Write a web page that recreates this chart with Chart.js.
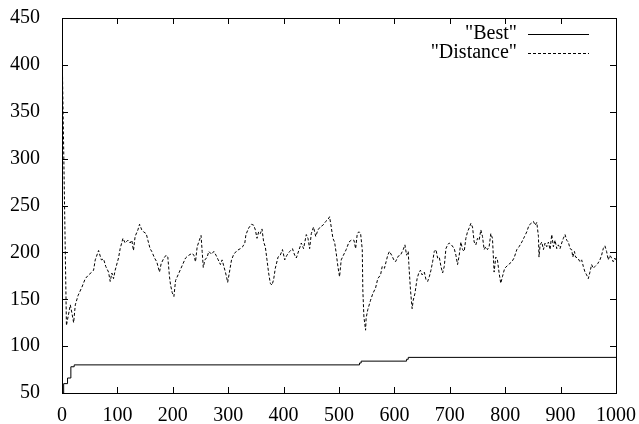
<!DOCTYPE html>
<html>
<head>
<meta charset="utf-8">
<script src="https://cdn.jsdelivr.net/npm/chart.js@4.4.0/dist/chart.umd.min.js"></script>
<style>
  html, body { margin: 0; padding: 0; background: #fff; }
  #wrap { width: 639px; height: 424px; }
</style>
</head>
<body>
<div id="wrap"><canvas id="graph"></canvas></div>
<script>
// "Best" - stepped line, x where the new value starts
const bestX = [0, 3, 10, 16, 22, 537, 540, 622, 625, 1000];
const bestY = [50, 60, 66, 78, 80, 82, 84, 86, 88, 88];

// "Distance"
const distX = [0, 8, 15, 18, 21, 24, 29, 36, 42, 48, 54, 57, 60, 66, 71, 75, 79, 84, 87, 90,
  93, 96, 102, 105, 110, 114, 119, 123, 126, 129, 132, 137, 140, 144, 147, 152, 155, 159, 162, 167,
  171, 176, 179, 184, 188, 191, 194, 196, 199, 202, 205, 211, 217, 223, 229, 235, 238, 241, 244, 248,
  251, 253, 255, 258, 262, 265, 270, 274, 278, 282, 286, 289, 294, 297, 299, 302, 306, 310, 316, 322,
  326, 330, 332, 337, 342, 346, 349, 352, 355, 358, 361, 364, 367, 370, 373, 376, 379, 382, 385, 390,
  394, 398, 402, 406, 411, 416, 420, 423, 428, 432, 436, 441, 444, 447, 450, 454, 458, 462, 466, 471,
  476, 480, 483, 486, 489, 492, 495, 498, 501, 504, 508, 513, 518, 522, 527, 530, 533, 536, 539, 542,
  543, 545, 548, 549, 552, 557, 561, 566, 570, 575, 578, 582, 585, 588, 591, 595, 599, 602, 607, 611,
  616, 619, 622, 625, 626, 629, 632, 634, 637, 641, 644, 647, 650, 654, 657, 660, 663, 666, 669, 672,
  675, 678, 681, 684, 687, 690, 693, 696, 699, 703, 708, 711, 714, 717, 720, 723, 726, 729, 732, 735,
  738, 741, 744, 747, 750, 753, 756, 759, 762, 765, 768, 771, 774, 777, 780, 783, 786, 789, 792, 795,
  799, 806, 812, 816, 821, 825, 830, 835, 839, 843, 847, 851, 854, 857, 860, 861, 863, 866, 869, 872,
  875, 878, 881, 884, 887, 890, 893, 896, 899, 902, 905, 908, 911, 914, 917, 920, 922, 925, 927, 931,
  935, 938, 941, 944, 947, 950, 953, 956, 959, 962, 967, 971, 974, 977, 980, 983, 986, 989, 992, 995,
  998, 1000];
const distY = [425, 122, 144, 135, 125, 144, 154, 163, 172, 176, 179, 181, 192, 202, 192, 193, 185, 179, 169, 178,
  172, 181, 194, 204, 215, 210, 213, 210, 213, 202, 217, 224, 230, 224, 222, 220, 213, 204, 201, 194,
  190, 179, 188, 194, 197, 195, 174, 165, 157, 153, 170, 178, 186, 194, 197, 199, 197, 190, 206, 213,
  218, 201, 184, 192, 195, 201, 198, 201, 197, 192, 187, 192, 181, 174, 168, 178, 192, 198, 202, 204,
  206, 210, 219, 226, 230, 229, 224, 215, 222, 220, 225, 211, 206, 192, 178, 167, 165, 171, 183, 195,
  197, 203, 192, 197, 201, 204, 197, 194, 203, 210, 204, 219, 215, 204, 220, 227, 217, 224, 227, 229,
  233, 235, 238, 227, 215, 211, 199, 185, 174, 192, 197, 203, 211, 213, 213, 204, 220, 222, 220, 203,
  160, 131, 117, 130, 139, 149, 156, 162, 172, 176, 185, 183, 190, 197, 201, 197, 192, 190, 196, 197,
  203, 208, 197, 201, 188, 160, 140, 149, 156, 172, 178, 181, 176, 179, 171, 169, 174, 181, 190, 201,
  203, 194, 195, 185, 178, 185, 204, 208, 210, 208, 204, 197, 187, 197, 211, 203, 201, 215, 222, 226,
  231, 227, 211, 208, 215, 213, 224, 217, 203, 206, 203, 206, 220, 215, 179, 195, 192, 178, 167, 174,
  183, 187, 190, 194, 203, 206, 211, 217, 222, 229, 231, 233, 229, 232, 217, 195, 208, 211, 203, 210,
  206, 211, 203, 219, 206, 213, 204, 208, 204, 210, 215, 219, 213, 211, 204, 203, 195, 201, 195, 194,
  190, 192, 185, 179, 176, 172, 179, 187, 183, 185, 188, 192, 197, 204, 207, 201, 192, 197, 194, 190,
  194, 190];

const xTicks = [0, 100, 200, 300, 400, 500, 600, 700, 800, 900, 1000];
const yTicks = [50, 100, 150, 200, 250, 300, 350, 400, 450];

const font = { family: '"Liberation Serif", "Times New Roman", serif', size: 20 };

// box, inward ticks on all sides and gnuplot style key
const plotBox = {
  id: 'plotBox',
  afterDraw(chart) {
    const { ctx, chartArea: a, scales: { x, y } } = chart;
    ctx.save();
    ctx.strokeStyle = '#000';
    ctx.lineWidth = 1;
    ctx.setLineDash([]);
    ctx.strokeRect(a.left + 0.5, a.top + 0.5, a.right - a.left, a.bottom - a.top);
    ctx.beginPath();
    xTicks.forEach(v => {
      const px = Math.round(x.getPixelForValue(v)) + 0.5;
      ctx.moveTo(px, a.bottom); ctx.lineTo(px, a.bottom - 6);
      ctx.moveTo(px, a.top); ctx.lineTo(px, a.top + 6);
    });
    yTicks.forEach(v => {
      const py = Math.round(y.getPixelForValue(v)) + 0.5;
      ctx.moveTo(a.left, py); ctx.lineTo(a.left + 6, py);
      ctx.moveTo(a.right, py); ctx.lineTo(a.right - 6, py);
    });
    ctx.stroke();

    // key
    ctx.font = font.size + 'px ' + font.family;
    ctx.fillStyle = '#000';
    ctx.textAlign = 'right';
    ctx.textBaseline = 'middle';
    const tx = a.right - 99, l0 = a.right - 88, l1 = a.right - 27;
    chart.data.datasets.forEach((ds, i) => {
      const ty = a.top + 16 + i * 19;
      ctx.fillText(ds.label, tx, ty);
      ctx.beginPath();
      ctx.setLineDash(ds.borderDash || []);
      ctx.moveTo(l0, ty + 0.5);
      ctx.lineTo(l1, ty + 0.5);
      ctx.stroke();
    });
    ctx.restore();
  }
};

new Chart(document.getElementById('graph'), {
  type: 'scatter',
  data: {
    datasets: [{
      label: '"Best"',
      data: bestX.map((v, i) => ({ x: v, y: bestY[i] })),
      showLine: true,
      stepped: true,
      borderColor: '#000',
      borderWidth: 1,
      pointRadius: 0
    }, {
      label: '"Distance"',
      data: distX.map((v, i) => ({ x: v, y: distY[i] })),
      showLine: true,
      borderColor: '#000',
      borderWidth: 1,
      borderDash: [3, 2],
      pointRadius: 0
    }]
  },
  options: {
    responsive: true,
    maintainAspectRatio: false,
    animation: false,
    layout: { padding: { top: 18, right: 23, left: 0, bottom: 0 } },
    plugins: { legend: { display: false }, tooltip: { enabled: false } },
    scales: {
      x: {
        type: 'linear',
        min: 0, max: 1000,
        grid: { display: false },
        border: { display: false },
        afterFit: s => { s.height = 31; s.paddingLeft = 0; s.paddingRight = 0; },
        ticks: { stepSize: 100, color: '#000', font: font, padding: 3, maxRotation: 0, callback: v => String(v) }
      },
      y: {
        min: 50, max: 450,
        grid: { display: false },
        border: { display: false },
        afterFit: s => { s.width = 62; s.paddingTop = 0; s.paddingBottom = 0; },
        ticks: { stepSize: 50, color: '#000', font: font, padding: 14, callback: v => String(v) }
      }
    }
  },
  plugins: [plotBox]
});
</script>
</body>
</html>
